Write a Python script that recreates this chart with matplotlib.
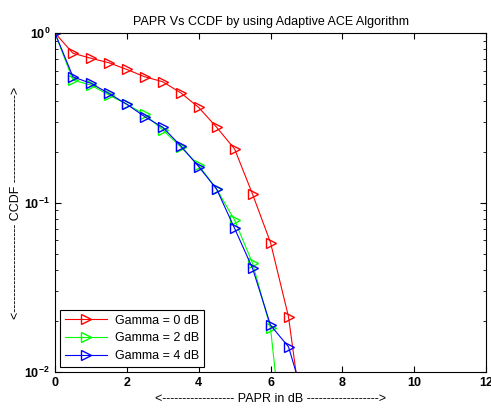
import numpy as np
import matplotlib
matplotlib.use('Agg')
import matplotlib.pyplot as plt

plt.rcParams['font.family'] = ['Liberation Sans', 'DejaVu Sans']

# PAPR values (dB) and CCDF for each clipping gamma
papr = [0, 0.5, 1, 1.5, 2, 2.5, 3, 3.5, 4, 4.5, 5, 5.5, 6, 6.5, 7]
ccdf_g0 = [1.0, 0.76, 0.71, 0.668, 0.61, 0.552, 0.516, 0.444, 0.364, 0.278, 0.207, 0.112, 0.058, 0.0212, 0.0035]
ccdf_g2 = [1.0, 0.528, 0.493, 0.431, 0.38, 0.331, 0.268, 0.213, 0.166, 0.12, 0.0788, 0.0438, 0.0181, 0.0019, 0.0005]
ccdf_g4 = [1.0, 0.552, 0.505, 0.44, 0.38, 0.321, 0.278, 0.216, 0.163, 0.12, 0.0704, 0.0409, 0.0189, 0.0141, 0.0062]
labels = ['Gamma = 0 dB', 'Gamma = 2 dB', 'Gamma = 4 dB']
colors = ['#ff0000', '#00ff00', '#0000ff']

fig = plt.figure(figsize=(4.91, 4.08), dpi=100)
ax = fig.add_axes([0.112, 0.088, 0.878, 0.831])

for ys, lab, c in zip([ccdf_g0, ccdf_g2, ccdf_g4], labels, colors):
    ax.semilogy(papr, ys, color=c, marker='>', markerfacecolor='none',
                markeredgecolor=c, markersize=7, linewidth=0.8, label=lab)

ax.set_xlim(0, 12)
ax.set_ylim(1e-2, 1)
ax.set_xticks(np.arange(0, 13, 2))
ax.tick_params(which='both', direction='in', top=True, right=True, labelsize=9)
ax.tick_params(which='major', length=4)
ax.tick_params(which='minor', length=2)
for t in ax.get_xticklabels() + ax.get_yticklabels():
    t.set_fontweight('bold')
for s in ax.spines.values():
    s.set_linewidth(0.8)

ax.set_title('PAPR Vs CCDF by using Adaptive ACE Algorithm', fontsize=9, pad=6)
ax.set_xlabel('<' + '-' * 18 + ' PAPR in dB ' + '-' * 18 + '>', fontsize=9, labelpad=3)
ax.set_ylabel('<' + '-' * 22 + ' CCDF ' + '-' * 22 + '>', fontsize=9, labelpad=2)

leg = ax.legend(loc='lower left', fontsize=9, fancybox=False, edgecolor='black',
                framealpha=1, borderaxespad=0.4, handlelength=3.4, handletextpad=0.6,
                labelspacing=0.45)
leg.get_frame().set_linewidth(0.8)

fig.savefig('out.png', dpi=100)
